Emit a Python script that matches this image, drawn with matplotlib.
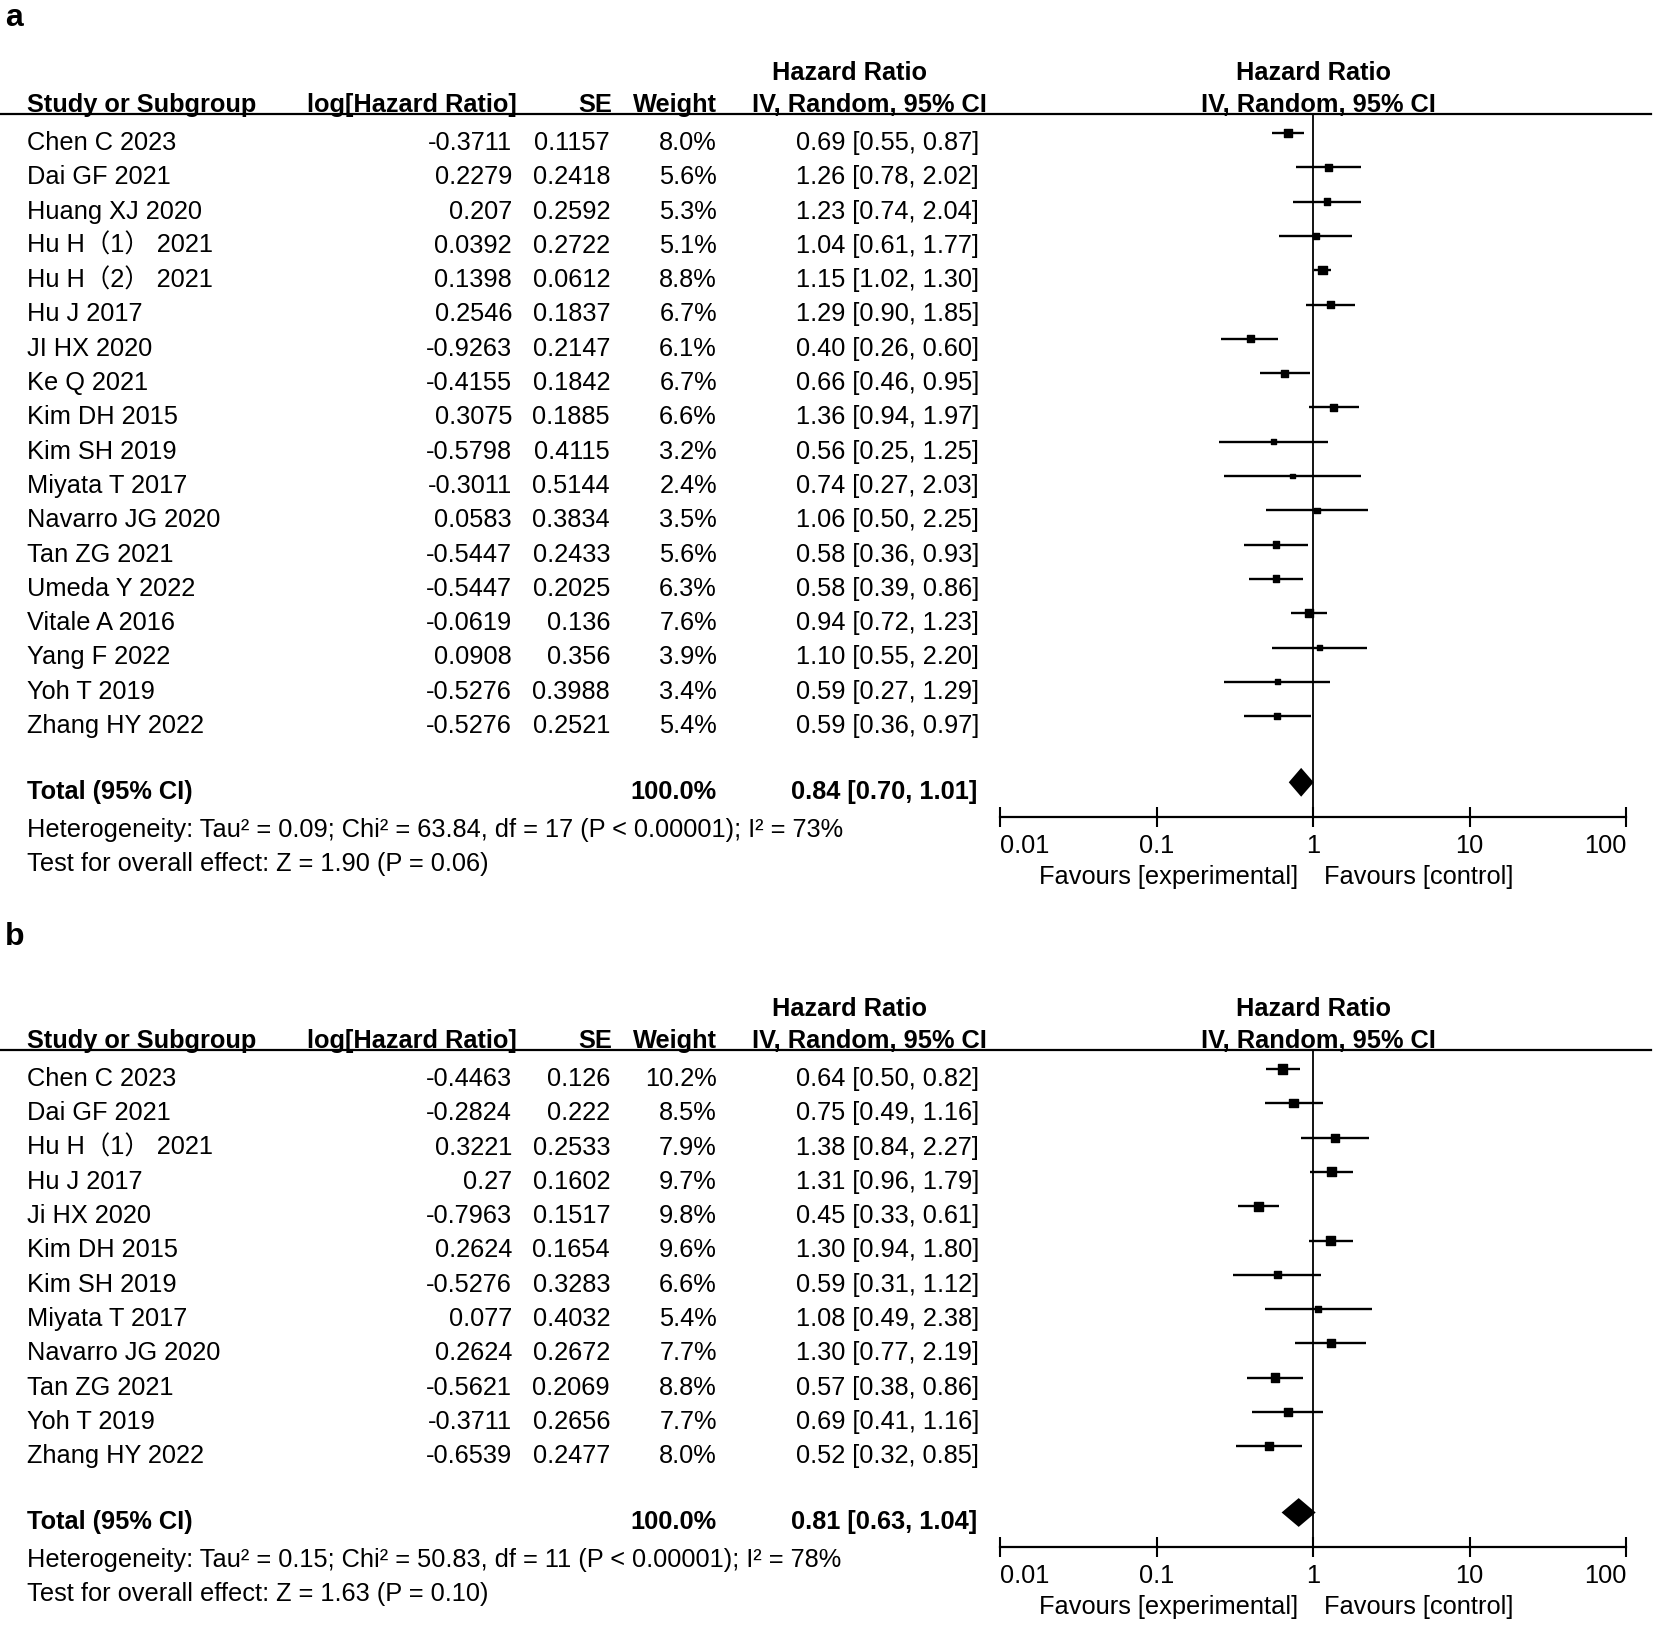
#!/usr/bin/env python3
"""Two-panel RevMan-style forest plot (hazard ratios, IV random effects)."""
import matplotlib
matplotlib.use("Agg")
import matplotlib.pyplot as plt
import matplotlib.transforms as mtransforms
from matplotlib.lines import Line2D

plt.rcParams["font.family"] = ["Liberation Sans", "Noto Sans CJK SC", "DejaVu Sans"]

# ---- panel a data ----
studies_a = ["Chen C 2023", "Dai GF 2021", "Huang XJ 2020", "Hu H（1） 2021",
             "Hu H（2） 2021", "Hu J 2017", "JI HX 2020", "Ke Q 2021",
             "Kim DH 2015", "Kim SH 2019", "Miyata T 2017", "Navarro JG 2020",
             "Tan ZG 2021", "Umeda Y 2022", "Vitale A 2016", "Yang F 2022",
             "Yoh T 2019", "Zhang HY 2022"]
loghr_a = [-0.3711, 0.2279, 0.207, 0.0392, 0.1398, 0.2546, -0.9263, -0.4155,
           0.3075, -0.5798, -0.3011, 0.0583, -0.5447, -0.5447, -0.0619,
           0.0908, -0.5276, -0.5276]
se_a = [0.1157, 0.2418, 0.2592, 0.2722, 0.0612, 0.1837, 0.2147, 0.1842,
        0.1885, 0.4115, 0.5144, 0.3834, 0.2433, 0.2025, 0.136, 0.356,
        0.3988, 0.2521]
weight_a = [8.0, 5.6, 5.3, 5.1, 8.8, 6.7, 6.1, 6.7, 6.6, 3.2, 2.4, 3.5,
            5.6, 6.3, 7.6, 3.9, 3.4, 5.4]
hr_a = [0.69, 1.26, 1.23, 1.04, 1.15, 1.29, 0.40, 0.66, 1.36, 0.56, 0.74,
        1.06, 0.58, 0.58, 0.94, 1.10, 0.59, 0.59]
lo_a = [0.55, 0.78, 0.74, 0.61, 1.02, 0.90, 0.26, 0.46, 0.94, 0.25, 0.27,
        0.50, 0.36, 0.39, 0.72, 0.55, 0.27, 0.36]
hi_a = [0.87, 2.02, 2.04, 1.77, 1.30, 1.85, 0.60, 0.95, 1.97, 1.25, 2.03,
        2.25, 0.93, 0.86, 1.23, 2.20, 1.29, 0.97]
total_a = (0.84, 0.70, 1.01)
het_a = "Heterogeneity: Tau² = 0.09; Chi² = 63.84, df = 17 (P < 0.00001); I² = 73%"
test_a = "Test for overall effect: Z = 1.90 (P = 0.06)"

# ---- panel b data ----
studies_b = ["Chen C 2023", "Dai GF 2021", "Hu H（1） 2021", "Hu J 2017",
             "Ji HX 2020", "Kim DH 2015", "Kim SH 2019", "Miyata T 2017",
             "Navarro JG 2020", "Tan ZG 2021", "Yoh T 2019", "Zhang HY 2022"]
loghr_b = [-0.4463, -0.2824, 0.3221, 0.27, -0.7963, 0.2624, -0.5276, 0.077,
           0.2624, -0.5621, -0.3711, -0.6539]
se_b = [0.126, 0.222, 0.2533, 0.1602, 0.1517, 0.1654, 0.3283, 0.4032,
        0.2672, 0.2069, 0.2656, 0.2477]
weight_b = [10.2, 8.5, 7.9, 9.7, 9.8, 9.6, 6.6, 5.4, 7.7, 8.8, 7.7, 8.0]
hr_b = [0.64, 0.75, 1.38, 1.31, 0.45, 1.30, 0.59, 1.08, 1.30, 0.57, 0.69, 0.52]
lo_b = [0.50, 0.49, 0.84, 0.96, 0.33, 0.94, 0.31, 0.49, 0.77, 0.38, 0.41, 0.32]
hi_b = [0.82, 1.16, 2.27, 1.79, 0.61, 1.80, 1.12, 2.38, 2.19, 0.86, 1.16, 0.85]
total_b = (0.81, 0.63, 1.04)
het_b = "Heterogeneity: Tau² = 0.15; Chi² = 50.83, df = 11 (P < 0.00001); I² = 78%"
test_b = "Test for overall effect: Z = 1.63 (P = 0.10)"

xticks = [0.01, 0.1, 1, 10, 100]
xtick_labels = ["0.01", "0.1", "1", "10", "100"]

W, H = 1654, 1631
ROW = 34.3          # row pitch in pixels
FS = 18.3           # table font size
TXT = 0.26          # text sits slightly below the marks, as in RevMan output
fig = plt.figure(figsize=(W / 100, H / 100), dpi=100)


def fx(px):
    return px / W


def fy(py):
    return 1 - py / H


def panel(row0, studies, loghr, se, weight, hr, lo, hi, total, het, test):
    n = len(studies)
    top, bottom = -0.54, n + 1.95
    top_px = row0 + top * ROW
    bot_px = row0 + bottom * ROW
    ax = fig.add_axes([fx(1000), fy(bot_px), fx(626), (bot_px - top_px) / H])
    ax.set_xscale("log")
    ax.set_xlim(0.01, 100)
    ax.set_ylim(bottom, top)
    for s in ("top", "left", "right"):
        ax.spines[s].set_visible(False)
    ax.spines["bottom"].set_linewidth(1.6)
    ax.set_yticks([])
    ax.set_xticks(xticks)
    ax.set_xticklabels(xtick_labels)
    ax.minorticks_off()
    ax.tick_params(axis="x", direction="inout", length=15, width=1.5,
                   labelsize=FS, pad=4)
    tl = ax.get_xticklabels()
    tl[0].set_horizontalalignment("left")
    tl[-1].set_horizontalalignment("right")
    ax.patch.set_alpha(0)
    ax.axvline(1, color="black", lw=1.3)

    rows = list(range(n))
    ax.hlines(rows, lo, hi, color="black", lw=1.7)
    ax.scatter(hr, rows, marker="s", color="black",
               s=[(2.1 + 0.46 * w) ** 2 for w in weight], zorder=3)
    ty = n + 0.93
    est, tlo, thi = total
    ax.fill([tlo, est, thi, est], [ty, ty - 0.42, ty, ty + 0.42],
            color="black", lw=0)

    # table text, rows tied to the forest axis data coordinates
    tr = mtransforms.blended_transform_factory(fig.transFigure, ax.transData)
    for i in rows:
        y = i + TXT
        ax.text(fx(27), y, studies[i], transform=tr, ha="left", va="center", fontsize=FS)
        ax.text(fx(512), y, f"{loghr[i]:g}", transform=tr, ha="right", va="center", fontsize=FS)
        ax.text(fx(610), y, f"{se[i]:g}", transform=tr, ha="right", va="center", fontsize=FS)
        ax.text(fx(717), y, f"{weight[i]:.1f}%", transform=tr, ha="right", va="center", fontsize=FS)
        ax.text(fx(979), y, f"{hr[i]:.2f} [{lo[i]:.2f}, {hi[i]:.2f}]", transform=tr,
                ha="right", va="center", fontsize=FS)
    y = ty + TXT
    ax.text(fx(27), y, "Total (95% CI)", transform=tr, ha="left", va="center",
            fontsize=FS, fontweight="bold")
    ax.text(fx(717), y, "100.0%", transform=tr, ha="right", va="center",
            fontsize=FS, fontweight="bold")
    ax.text(fx(977), y, f"{est:.2f} [{tlo:.2f}, {thi:.2f}]", transform=tr,
            ha="right", va="center", fontsize=FS, fontweight="bold")
    ax.text(fx(27), n + 2.28, het, transform=tr, ha="left", va="center", fontsize=FS)
    ax.text(fx(27), n + 3.28, test, transform=tr, ha="left", va="center", fontsize=FS)

    fav_y = bottom + 59 / ROW
    ax.annotate("Favours [experimental]", xy=(1, fav_y), xytext=(-15, 0),
                textcoords="offset pixels", ha="right", va="center", fontsize=FS,
                annotation_clip=False)
    ax.annotate("Favours [control]", xy=(1, fav_y), xytext=(11, 0),
                textcoords="offset pixels", ha="left", va="center", fontsize=FS,
                annotation_clip=False)

    # header
    line_px = top_px
    h1, h2 = line_px - 42, line_px - 10
    bold = dict(fontsize=FS, fontweight="bold", va="center")
    fig.text(fx(27), fy(h2), "Study or Subgroup", ha="left", **bold)
    fig.text(fx(517), fy(h2), "log[Hazard Ratio]", ha="right", **bold)
    fig.text(fx(612), fy(h2), "SE", ha="right", **bold)
    fig.text(fx(717), fy(h2), "Weight", ha="right", **bold)
    fig.text(fx(850), fy(h1), "Hazard Ratio", ha="center", **bold)
    fig.text(fx(869), fy(h2), "IV, Random, 95% CI", ha="center", **bold)
    fig.text(fx(1314), fy(h1), "Hazard Ratio", ha="center", **bold)
    fig.text(fx(1318), fy(h2), "IV, Random, 95% CI", ha="center", **bold)
    fig.add_artist(Line2D([0, fx(1651)], [fy(line_px), fy(line_px)],
                          color="black", lw=1.6))
    return ax


panel(134, studies_a, loghr_a, se_a, weight_a, hr_a, lo_a, hi_a,
      total_a, het_a, test_a)
panel(1070, studies_b, loghr_b, se_b, weight_b, hr_b, lo_b, hi_b,
      total_b, het_b, test_b)

fig.text(fx(5), fy(18), "a", ha="left", va="center", fontsize=23, fontweight="bold")
fig.text(fx(5), fy(937), "b", ha="left", va="center", fontsize=23, fontweight="bold")

fig.savefig("out.png", dpi=100)
